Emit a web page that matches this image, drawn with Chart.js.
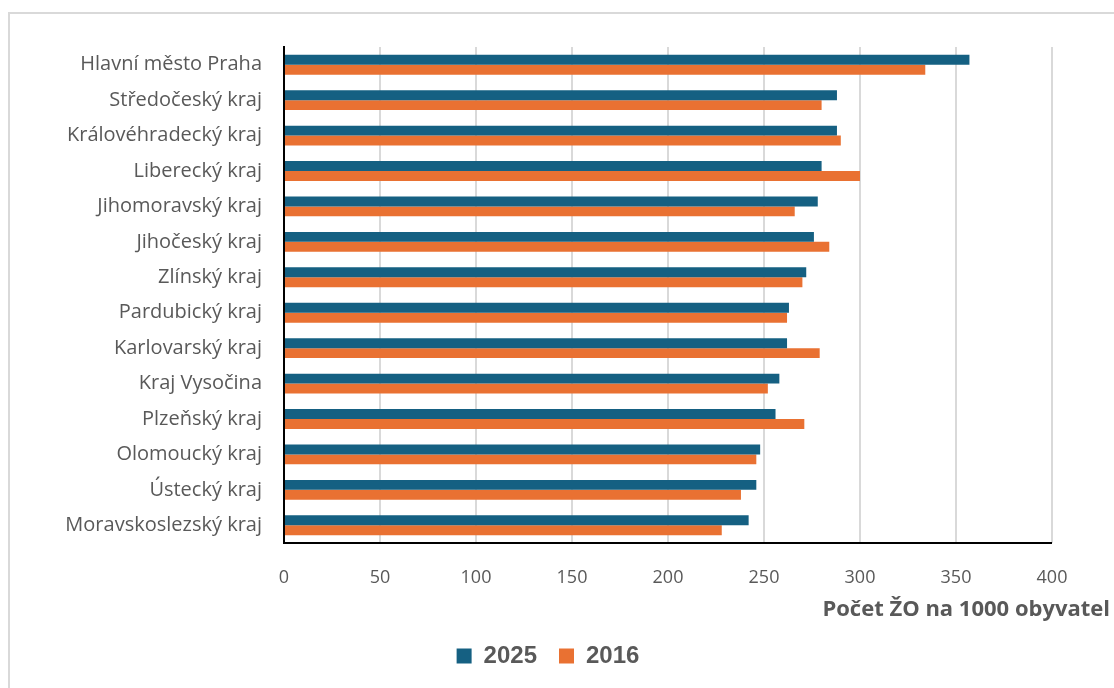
<!DOCTYPE html>
<html>
<head>
<meta charset="utf-8">
<script src="https://cdn.jsdelivr.net/npm/chart.js@4/dist/chart.umd.min.js"></script>
<style>
  html, body { margin: 0; padding: 0; background: #fff; overflow: hidden; }
  #frame { position: absolute; left: 8px; top: 12px; width: 1200px; height: 800px; border: 2px solid #d9d9d9; }
  #wrap { position: absolute; left: 0; top: 0; width: 1114px; height: 688px; }
</style>
</head>
<body>
<div id="frame"></div>
<div id="wrap"><canvas id="chart-bar"></canvas></div>
<script>
// data
var regions = ["Hlavní město Praha", "Středočeský kraj", "Královéhradecký kraj", "Liberecký kraj",
  "Jihomoravský kraj", "Jihočeský kraj", "Zlínský kraj", "Pardubický kraj", "Karlovarský kraj",
  "Kraj Vysočina", "Plzeňský kraj", "Olomoucký kraj", "Ústecký kraj", "Moravskoslezský kraj"];
var values2025 = [357, 288, 288, 280, 278, 276, 272, 263, 262, 258, 256, 248, 246, 242];
var values2016 = [334, 280, 290, 300, 266, 284, 270, 262, 279, 252, 271, 246, 238, 228];
var xTicks = [0, 50, 100, 150, 200, 250, 300, 350, 400];
var axisTitle = "Počet ŽO na 1000 obyvatel";

// x axis title sits right of the plot area, so draw it by hand
// also the black bottom axis line, and nudge the legend right/down
var extrasPlugin = {
  id: "extras",
  afterLayout: function (chart) {
    chart.legend.left += 22;
    chart.legend.right += 22;
    chart.legend.top += 4;
    chart.legend.bottom += 4;
  },
  afterDatasetsDraw: function (chart) {
    var a = chart.chartArea, c = chart.ctx;
    c.save();
    c.strokeStyle = "#000";
    c.lineWidth = 2;
    c.beginPath();
    c.moveTo(a.left - 1, a.bottom);
    c.lineTo(a.right, a.bottom);
    c.stroke();
    c.restore();
  },
  afterDraw: function (chart) {
    var c = chart.ctx;
    c.save();
    c.font = "bold 22px 'Open Sans'";
    c.fillStyle = "#595959";
    c.textAlign = "right";
    c.textBaseline = "middle";
    c.fillText(axisTitle, chart.chartArea.right + 58, 610);
    c.restore();
  }
};

var ctx = document.getElementById("chart-bar").getContext("2d");

new Chart(ctx, {
  type: "bar",
  data: {
    labels: regions,
    datasets: [
      {
        label: "2025",
        data: values2025,
        backgroundColor: "#156082",
        categoryPercentage: 0.56,
        barPercentage: 1.0,
      },
      {
        label: "2016",
        data: values2016,
        backgroundColor: "#E97132",
        categoryPercentage: 0.56,
        barPercentage: 1.0,
      },
    ],
  },
  plugins: [extrasPlugin],
  options: {
    indexAxis: "y",
    responsive: true,
    maintainAspectRatio: false,
    animation: false,
    layout: {
      padding: { top: 47, right: 62, bottom: 14, left: 0 },
    },
    plugins: {
      tooltip: { enabled: false },
      legend: {
        position: "bottom",
        labels: {
          boxWidth: 15,
          boxHeight: 15,
          padding: 22,
          color: "#595959",
          font: { size: 24, weight: "bold", family: "'Liberation Sans'" },
        },
      },
    },
    scales: {
      x: {
        min: 0,
        max: 400,
        afterBuildTicks: function (scale) {
          scale.ticks = xTicks.map(function (v) { return { value: v }; });
        },
        afterFit: function (scale) { scale.height = 75; },
        grid: {
          color: "#d9d9d9",
          lineWidth: 2,
          drawTicks: false,
        },
        border: { display: false },
        ticks: {
          padding: 24,
          color: "#595959",
          font: { size: 18, family: "'Open Sans'" },
        },
      },
      y: {
        afterFit: function (scale) { scale.width = 284; },
        grid: { display: false, drawTicks: false },
        border: { display: true, color: "#000", width: 2 },
        ticks: {
          padding: 22,
          color: "#595959",
          font: { size: 20, family: "'Open Sans'" },
        },
      },
    },
  },
});
</script>
</body>
</html>
